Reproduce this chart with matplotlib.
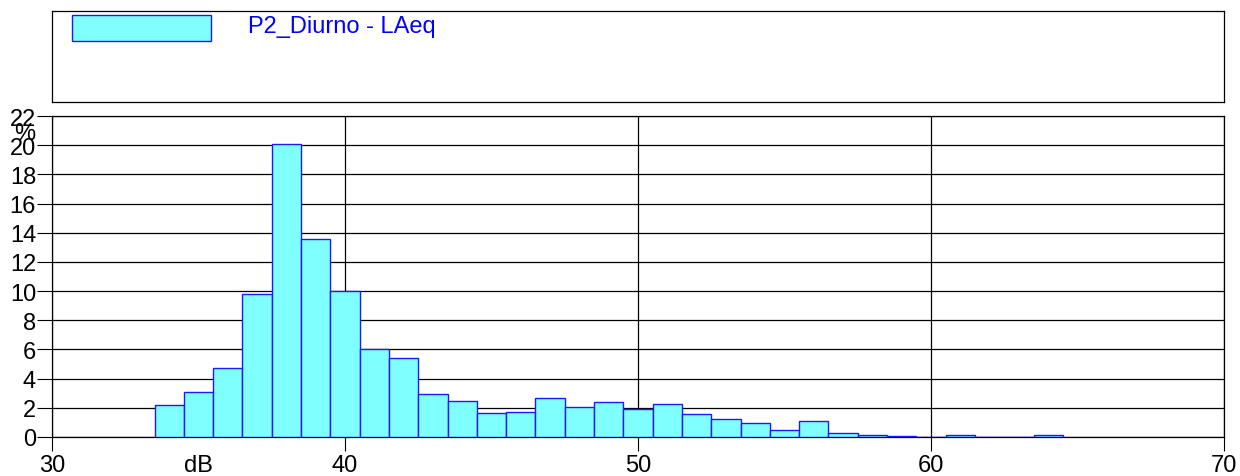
import matplotlib
matplotlib.use('Agg')
import matplotlib.pyplot as plt
from matplotlib.patches import Rectangle

plt.rcParams['font.family'] = ['Liberation Sans', 'DejaVu Sans']

# Histogram data: class centres (dB) and percentage of time
levels = list(range(34, 65))
percent = [2.2, 3.1, 4.7, 9.8, 20.1, 13.6, 10.0, 6.0, 5.4, 2.95, 2.45,
           1.65, 1.7, 2.7, 2.05, 2.4, 1.95, 2.25, 1.55, 1.2, 0.95, 0.45,
           1.1, 0.3, 0.14, 0.04, 0.03, 0.12, 0.03, 0.03, 0.12]
series_name = 'P2_Diurno - LAeq'
x_ticks = [30, 40, 50, 60, 70]
y_ticks = list(range(0, 23, 2))

fill = '#80ffff'
edge = '#1a1aff'
fs = 17

W, H = 1240, 477
fig = plt.figure(figsize=(W / 100, H / 100), dpi=100)

# main histogram axes
ax = fig.add_axes([52 / W, 1 - 438 / H, (1224 - 52) / W, (438 - 117) / H])
ax.bar(levels, percent, width=1.0, color=fill, edgecolor=edge, linewidth=1.0, zorder=3)
ax.set_xlim(30, 70)
ax.set_ylim(0, 22)
ax.set_xticks(x_ticks)
ax.set_yticks(y_ticks)
ax.tick_params(labelsize=fs, direction='out', width=0.8, colors='black')
ax.tick_params(axis='x', length=10, pad=2)
ax.tick_params(axis='y', length=11, pad=0.5)
ax.yaxis.grid(True, color='black', linewidth=0.9, zorder=1)
ax.xaxis.grid(True, color='black', linewidth=0.9, zorder=1)
for s in ax.spines.values():
    s.set_linewidth(0.9)
fig.text(198 / W, 1 - 466 / H, 'dB', fontsize=fs, ha='center', va='center')
fig.text(25 / W, 1 - 134 / H, '%', fontsize=fs, ha='center', va='center')

# legend box
lg = fig.add_axes([52 / W, 1 - 103 / H, (1224 - 52) / W, (103 - 12) / H])
lg.set_xticks([])
lg.set_yticks([])
lg.set_xlim(0, 1172)
lg.set_ylim(91, 0)
for s in lg.spines.values():
    s.set_linewidth(0.9)
lg.add_patch(Rectangle((20, 4), 139, 26, facecolor=fill, edgecolor=edge, linewidth=1.0))
lg.text(196, 15, series_name, color='#0000ff', fontsize=fs, ha='left', va='center')

fig.savefig('out.png', dpi=100)
